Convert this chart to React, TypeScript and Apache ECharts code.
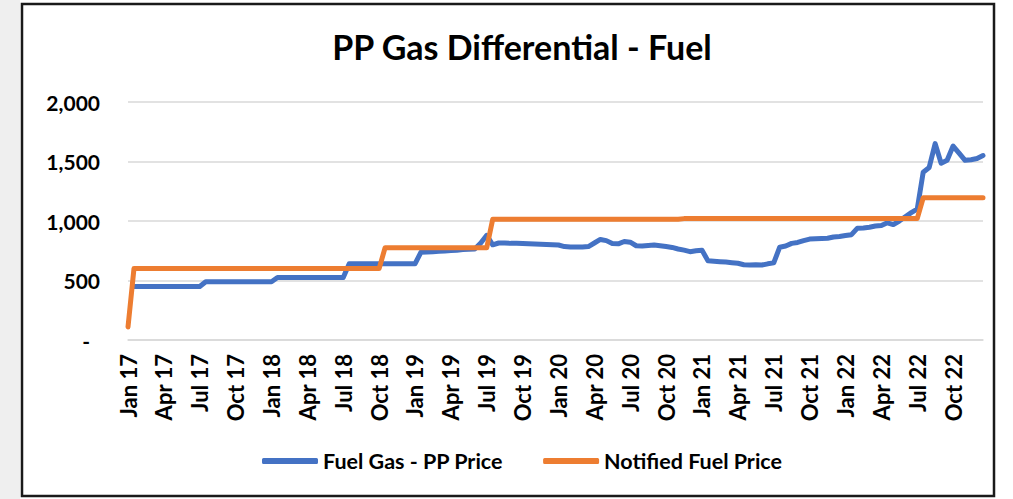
import React, { useEffect, useRef } from "react";
import * as echarts from "echarts";

// ---- data ----
const MONTHS = ["Jan", "Feb", "Mar", "Apr", "May", "Jun", "Jul", "Aug", "Sep", "Oct", "Nov", "Dec"];
const YEARS = ["17", "18", "19", "20", "21", "22"];
const HALVES = ["01", "16"]; // fortnightly notifications

const categories: string[] = [];
for (const y of YEARS) for (const m of MONTHS) for (const h of HALVES) categories.push(`${h} ${m} ${y}`);

const SERIES_NAMES = ["Fuel Gas - PP Price", "Notified Fuel Price"];

const fuelGasPP: (number | null)[] = [
  null, 450, 450, 450, 450, 450, 450, 450, 450, 450, 450, 450,
  450, 490, 490, 490, 490, 490, 490, 490, 490, 490, 490, 490,
  490, 525, 525, 525, 525, 525, 525, 525, 525, 525, 525, 525,
  525, 640, 640, 640, 640, 640, 640, 640, 640, 640, 640, 640,
  640, 738, 740, 742, 745, 748, 752, 755, 760, 762, 765, 815,
  880, 800, 815, 815, 812, 812, 810, 808, 806, 805, 803, 800,
  798, 785, 782, 782, 782, 785, 815, 845, 835, 810, 808, 828,
  822, 792, 790, 795, 798, 792, 785, 778, 765, 755, 742, 750,
  755, 665, 662, 658, 655, 650, 645, 632, 630, 632, 630, 640,
  648, 780, 790, 812, 820, 835, 848, 850, 852, 855, 866, 870,
  878, 885, 940, 942, 948, 958, 962, 985, 970, 1000, 1036, 1070,
  1100, 1410, 1450, 1650, 1485, 1510, 1630, 1570, 1510, 1515, 1525, 1550,
];

const notifiedFuel: number[] = [
  110, 600, 600, 600, 600, 600, 600, 600, 600, 600, 600, 600,
  600, 600, 600, 600, 600, 600, 600, 600, 600, 600, 600, 600,
  600, 600, 600, 600, 600, 600, 600, 600, 600, 600, 600, 600,
  600, 600, 600, 600, 600, 600, 600, 776, 776, 776, 776, 776,
  776, 776, 776, 776, 776, 776, 776, 776, 776, 776, 776, 776,
  776, 1015, 1015, 1015, 1015, 1015, 1015, 1015, 1015, 1015, 1015, 1015,
  1015, 1015, 1015, 1015, 1015, 1015, 1015, 1015, 1015, 1015, 1015, 1015,
  1015, 1015, 1015, 1015, 1015, 1015, 1015, 1015, 1015, 1020, 1020, 1020,
  1020, 1020, 1020, 1020, 1020, 1020, 1020, 1020, 1020, 1020, 1020, 1020,
  1020, 1020, 1020, 1020, 1020, 1020, 1020, 1020, 1020, 1020, 1020, 1020,
  1020, 1020, 1020, 1020, 1020, 1020, 1020, 1020, 1020, 1020, 1020, 1020,
  1020, 1195, 1195, 1195, 1195, 1195, 1195, 1195, 1195, 1195, 1195, 1195,
];

const Y_TICKS = { min: 0, max: 2000, interval: 500 };

const FONT = "Lato";
const BLUE = "#4472C4";
const ORANGE = "#ED7D31";

export default function App() {
  const ref = useRef<HTMLDivElement>(null);

  useEffect(() => {
    if (!ref.current) return;
    const chart = echarts.init(ref.current, undefined, { renderer: "svg" });
    chart.setOption({
      animation: false,
      backgroundColor: "#ffffff",
      title: {
        text: "PP Gas Differential - Fuel",
        left: 517,
        top: 24,
        textAlign: "center",
        textStyle: { fontFamily: FONT, fontWeight: "bold", fontSize: 34, color: "#000" },
      },
      graphic: [
        { type: "rect", shape: { x: 0, y: 0, width: 20, height: 499 }, style: { fill: "#efefef" }, z: -1 },
        {
          type: "rect",
          shape: { x: 22, y: 4, width: 972, height: 492 },
          style: { fill: "none", stroke: "#1a1a1a", lineWidth: 2.5 },
          z: 10,
        },
      ],
      legend: {
        left: 262,
        top: 450,
        padding: 0,
        icon: "roundRect",
        itemWidth: 56,
        itemHeight: 6,
        itemGap: 40,
        textStyle: { fontFamily: FONT, fontWeight: "bold", fontSize: 21.5, color: "#000" },
        data: SERIES_NAMES,
      },
      grid: { left: 128, right: 30, top: 102, bottom: 159, containLabel: false },
      xAxis: {
        type: "category",
        data: categories,
        boundaryGap: false,
        axisLine: { show: true, lineStyle: { color: "#d9d9d9", width: 1.5 } },
        axisTick: { show: false },
        axisLabel: {
          interval: 5,
          rotate: 90,
          margin: 14,
          fontFamily: FONT,
          fontWeight: "bold",
          fontSize: 22,
          color: "#000",
          formatter: (v: string) => v.slice(3),
        },
        splitLine: { show: false },
      },
      yAxis: {
        type: "value",
        min: Y_TICKS.min,
        max: Y_TICKS.max,
        interval: Y_TICKS.interval,
        axisLine: { show: false },
        axisTick: { show: false },
        splitLine: { lineStyle: { color: "#d9d9d9", width: 1.5 } },
        axisLabel: {
          margin: 28,
          fontFamily: FONT,
          fontWeight: "bold",
          fontSize: 21,
          color: "#000",
          formatter: (v: number) => (v === 0 ? "{d|-}" : v.toLocaleString("en-US")),
          rich: {
            d: { fontFamily: FONT, fontWeight: "bold", fontSize: 21, color: "#000", padding: [0, 10, 0, 0] },
          },
        },
      },
      series: [
        {
          name: SERIES_NAMES[0],
          type: "line",
          data: fuelGasPP,
          showSymbol: false,
          symbol: "none",
          connectNulls: false,
          itemStyle: { color: BLUE },
          lineStyle: { color: BLUE, width: 5, cap: "round", join: "round" },
        },
        {
          name: SERIES_NAMES[1],
          type: "line",
          data: notifiedFuel,
          showSymbol: false,
          symbol: "none",
          itemStyle: { color: ORANGE },
          lineStyle: { color: ORANGE, width: 5, cap: "round", join: "round" },
        },
      ],
    });
    return () => chart.dispose();
  }, []);

  return (
    <div
      ref={ref}
      style={{ position: "fixed", left: 0, top: 0, width: 1013, height: 499, background: "#fff" }}
    />
  );
}
